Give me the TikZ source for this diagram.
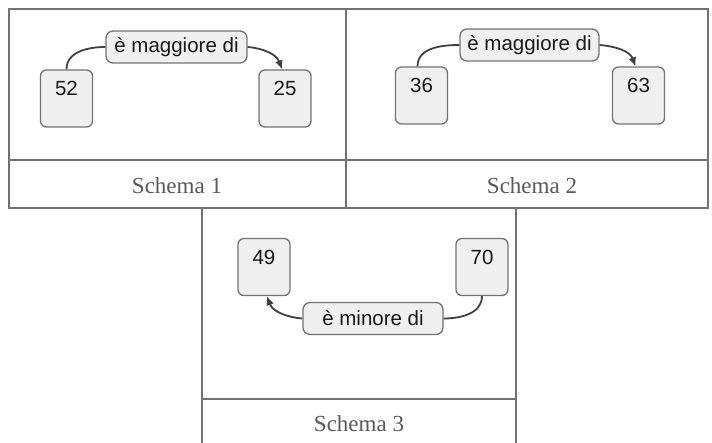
\documentclass[tikz,border=0pt]{standalone}
\usepackage{fontspec}
\setmainfont{Liberation Serif}
\setsansfont{Liberation Sans}
\usetikzlibrary{arrows.meta}
\begin{document}
\begin{tikzpicture}[x=1pt,y=-1pt,
  frame/.style={draw=black!55, line width=1.5pt},
  numbox/.style={draw=black!55, line width=1.3pt, fill=black!6, rounded corners=6pt,
    inner sep=0pt, minimum width=52pt, text height=26pt, text depth=31pt,
    font=\sffamily\fontsize{20.5}{23}\selectfont, text=black!90},
  relbox/.style={draw=black!55, line width=1.3pt, fill=black!6, rounded corners=7pt,
    inner sep=0pt, minimum height=32pt,
    font=\sffamily\fontsize{20.5}{23}\selectfont, text=black!90},
  conn/.style={draw=black!75, line width=1.8pt},
  arr/.style={conn, -{Latex[length=9pt,width=8pt]}},
  captext/.style={font=\rmfamily\fontsize{23}{26}\selectfont, text=black!65}
]
\useasboundingbox (0,0) rectangle (712,443);
% top table
\draw[frame] (9,9) rectangle (708,208);
\draw[frame] (9,160) -- (708,160);
\draw[frame] (346,9) -- (346,208);
% bottom table
\draw[frame] (202,208) -- (202,443);
\draw[frame] (516,208) -- (516,443);
\draw[frame] (202,399) -- (516,399);

% captions
\node[captext] (c1) at (177,186) {Schema 1};
\node[captext] (c2) at (532,186) {Schema 2};
\node[captext] (c3) at (359,424) {Schema 3};

% Schema 1
\node[numbox] (a1) at (66.5,98.5) {52};
\node[numbox] (b1) at (285,98.5) {25};
\node[relbox, minimum width=141pt] (r1) at (176.5,47) {è maggiore di};
\draw[conn] (a1.north) to[out=90,in=180] (r1.west);
\draw[arr] (r1.east) to[out=-5,in=110] ([xshift=-3pt]b1.north);

% Schema 2
\node[numbox] (a2) at (421.5,95.5) {36};
\node[numbox] (b2) at (638.5,95.5) {63};
\node[relbox, minimum width=139pt] (r2) at (529.5,45) {è maggiore di};
\draw[conn] ([xshift=-4pt]a2.north) to[out=90,in=180] (r2.west);
\draw[arr] (r2.east) to[out=-5,in=110] ([xshift=-3pt]b2.north);

% Schema 3
\node[numbox] (a3) at (264,267) {49};
\node[numbox] (b3) at (482,267) {70};
\node[relbox, minimum width=140pt] (r3) at (373,318.5) {è minore di};
\draw[conn] (b3.south) to[out=-90,in=0] (r3.east);
\draw[arr] (r3.west) to[out=175,in=-70] ([xshift=3pt]a3.south);
\end{tikzpicture}
\end{document}
